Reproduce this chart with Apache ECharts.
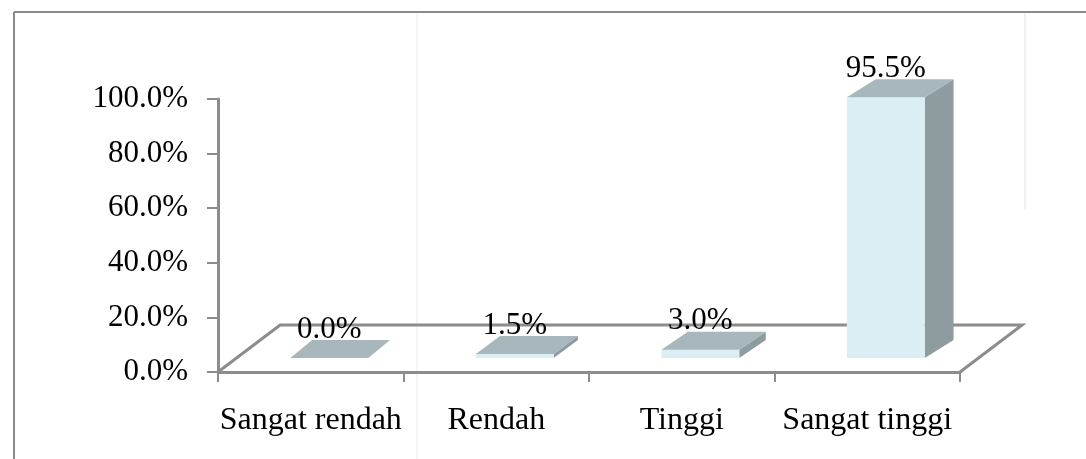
<!DOCTYPE html>
<html>
<head>
<meta charset="utf-8">
<title>Persentase kategori</title>
<script src="https://cdn.jsdelivr.net/npm/echarts@6/dist/echarts.min.js"></script>
<style>
  html, body { margin: 0; padding: 0; background: #fff; }
  #chart { width: 1086px; height: 459px; }
</style>
</head>
<body>
<div id="chart"></div>
<script>
// data
const categories = ["Sangat rendah", "Rendah", "Tinggi", "Sangat tinggi"];
const percentValues = [0.0, 1.5, 3.0, 95.5];
const yTicks = [0, 20, 40, 60, 80, 100];

const FONT = '"Liberation Serif", "Times New Roman", serif';
const GRAY = "#8c8c8c";

function pct(v) {
  return v.toFixed(1) + "%";
}

// 3D floor under the bars (parallelogram)
function renderFloor(params, api) {
  const bw = api.size([1, 0])[0];
  const first = api.coord([0, 0]);
  const last = api.coord([categories.length - 1, 0]);
  const x0 = first[0] - bw / 2;
  const x1 = last[0] + bw / 2;
  const y0 = first[1];
  const ddx = bw * 0.335;
  const ddy = -47;
  return {
    type: "polyline",
    shape: { points: [[x0, y0], [x0 + ddx, y0 + ddy], [x1 + ddx, y0 + ddy], [x1, y0]] },
    style: { stroke: GRAY, lineWidth: 3, fill: null }
  };
}

// 3D bar: front face, top face, right side, value label
function renderBar(params, api) {
  const idx = api.value(0);
  const val = api.value(1);
  const base = api.coord([idx, 0]);
  const bw = api.size([1, 0])[0];
  const w = bw * 0.42;
  const left = base[0] - bw / 2 + bw * 0.39;
  const lift = 14;
  const baseY = base[1] - lift;
  const topY = api.coord([idx, val])[1] - lift;
  const dx = w * (0.28 + 0.03 * idx);
  const dy = -18;
  const right = left + w;
  return {
    type: "group",
    children: [
      {
        type: "polygon",
        shape: { points: [[right, topY], [right + dx, topY + dy], [right + dx, baseY + dy], [right, baseY]] },
        style: { fill: "#8e9ca0" }
      },
      {
        type: "rect",
        shape: { x: left, y: topY, width: w, height: baseY - topY },
        style: { fill: "#dbeef4" }
      },
      {
        type: "polygon",
        shape: { points: [[left, topY], [left + dx, topY + dy], [right + dx, topY + dy], [right, topY]] },
        style: { fill: "#a8b7bc" }
      },
      {
        type: "text",
        style: {
          text: pct(val),
          x: left + w / 2,
          y: topY + dy + 5,
          align: "center",
          verticalAlign: "bottom",
          fontSize: 31,
          fontFamily: FONT,
          fill: "#000"
        }
      }
    ]
  };
}

const chart = echarts.init(document.getElementById("chart"));

const option = {
  backgroundColor: "#fff",
  animation: false,
  grid: { left: 218, right: 126, top: 99, bottom: 87 },
  xAxis: {
    type: "category",
    data: categories,
    axisLine: { show: true, lineStyle: { color: GRAY, width: 3 } },
    axisTick: { show: true, length: 10, lineStyle: { color: GRAY, width: 2 } },
    axisLabel: { interval: 0, fontSize: 32, fontFamily: FONT, color: "#000", margin: 33 },
    splitLine: { show: false }
  },
  yAxis: {
    type: "value",
    min: yTicks[0],
    max: yTicks[yTicks.length - 1],
    interval: yTicks[1] - yTicks[0],
    axisLine: { show: true, lineStyle: { color: GRAY, width: 3 } },
    axisTick: { show: true, length: 11, lineStyle: { color: GRAY, width: 2 } },
    axisLabel: { fontSize: 31, fontFamily: FONT, color: "#000", margin: 30, formatter: pct },
    splitLine: { show: false }
  },
  graphic: [
    { type: "line", shape: { x1: 417, y1: 12, x2: 417, y2: 459 }, style: { stroke: "#ececec", lineWidth: 1 }, z: -1 },
    { type: "line", shape: { x1: 1025, y1: 12, x2: 1025, y2: 210 }, style: { stroke: "#e4e4e4", lineWidth: 1 }, z: -1 },
    { type: "line", shape: { x1: 14, y1: 12, x2: 1086, y2: 12 }, style: { stroke: "#8a8a8a", lineWidth: 2 } },
    { type: "line", shape: { x1: 14, y1: 12, x2: 14, y2: 459 }, style: { stroke: "#8a8a8a", lineWidth: 2 } }
  ],
  series: [
    {
      type: "custom",
      name: "floor",
      z: 1,
      renderItem: renderFloor,
      data: [[0, 0]],
      encode: { x: 0, y: 1 },
      silent: true
    },
    {
      type: "custom",
      name: "persentase",
      z: 2,
      renderItem: renderBar,
      data: percentValues.map((v, i) => [i, v]),
      encode: { x: 0, y: 1 },
      clip: false
    }
  ]
};

chart.setOption(option);
</script>
</body>
</html>
